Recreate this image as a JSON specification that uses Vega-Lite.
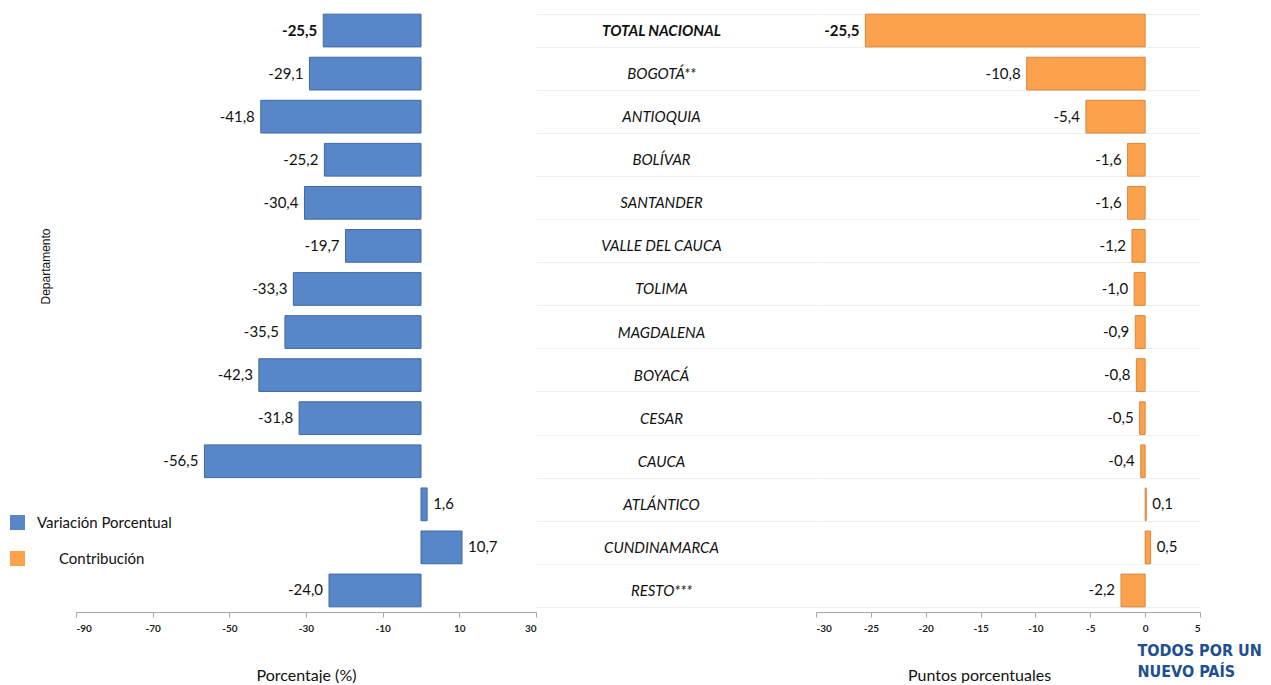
{
  "$schema": "https://vega.github.io/schema/vega-lite/v6.json",
  "padding": {"left": 10, "top": 2, "right": 0, "bottom": 0},
  "bounds": "flush",
  "spacing": 280,
  "resolve": {"scale": {"color": "independent"}, "legend": {"color": "independent"}},
  "config": {
    "view": {"stroke": null},
    "font": "Lato",
    "locale": {"number": {"decimal": ",", "thousands": ".", "grouping": [3], "currency": ["", ""], "minus": "-"}},
    "axis": {"labelFont": "Lato", "titleFont": "Lato", "labelColor": "#222222", "titleColor": "#111111", "domainColor": "#a6a6a6", "tickColor": "#a6a6a6"}
  },
  "datasets": {
    "deptos": [
      {"departamento": "TOTAL NACIONAL", "Variación Porcentual": -25.5, "Contribución": -25.5},
      {"departamento": "BOGOTÁ**", "Variación Porcentual": -29.1, "Contribución": -10.8},
      {"departamento": "ANTIOQUIA", "Variación Porcentual": -41.8, "Contribución": -5.4},
      {"departamento": "BOLÍVAR", "Variación Porcentual": -25.2, "Contribución": -1.6},
      {"departamento": "SANTANDER", "Variación Porcentual": -30.4, "Contribución": -1.6},
      {"departamento": "VALLE DEL CAUCA", "Variación Porcentual": -19.7, "Contribución": -1.2},
      {"departamento": "TOLIMA", "Variación Porcentual": -33.3, "Contribución": -1.0},
      {"departamento": "MAGDALENA", "Variación Porcentual": -35.5, "Contribución": -0.9},
      {"departamento": "BOYACÁ", "Variación Porcentual": -42.3, "Contribución": -0.8},
      {"departamento": "CESAR", "Variación Porcentual": -31.8, "Contribución": -0.5},
      {"departamento": "CAUCA", "Variación Porcentual": -56.5, "Contribución": -0.4},
      {"departamento": "ATLÁNTICO", "Variación Porcentual": 1.6, "Contribución": 0.1},
      {"departamento": "CUNDINAMARCA", "Variación Porcentual": 10.7, "Contribución": 0.5},
      {"departamento": "RESTO***", "Variación Porcentual": -24.0, "Contribución": -2.2}
    ]
  },
  "hconcat": [
    {
      "width": 460,
      "height": 603,
      "data": {"name": "deptos"},
      "transform": [{"fold": ["Variación Porcentual"], "as": ["serie", "valor"]}],
      "encoding": {
        "y": {
          "field": "departamento", "type": "nominal", "sort": null,
          "scale": {"paddingInner": 0.24, "paddingOuter": 0.12},
          "axis": {"labels": false, "ticks": false, "domain": false, "grid": false,
                   "title": "Departamento", "titleFont": "Liberation Sans", "titleFontSize": 12, "titleFontWeight": "normal",
                   "titleX": -31, "titleY": 257, "titleAngle": -90, "titleAlign": "center", "titleBaseline": "middle"}
        },
        "x": {
          "field": "valor", "type": "quantitative",
          "scale": {"domain": [-90, 30], "nice": false, "zero": false},
          "axis": {"values": [-90, -70, -50, -30, -10, 10, 30], "grid": false, "tickSize": 5,
                   "labelFontSize": 10, "labelFontWeight": "bold", "labelPadding": 6,
                   "title": "Porcentaje (%)", "titleFontSize": 16, "titleFontWeight": "normal", "titlePadding": 34}
        }
      },
      "layer": [
        {
          "mark": {"type": "bar", "stroke": "#41699f", "strokeWidth": 1},
          "encoding": {
            "color": {
              "field": "serie", "type": "nominal",
              "scale": {"domain": ["Variación Porcentual", "Contribución"], "range": ["#5787c9", "#fca24d"]},
              "legend": {"orient": "none", "legendX": -66, "legendY": 506, "title": null,
                         "symbolType": "square", "symbolSize": 225, "symbolStrokeWidth": 0,
                         "labelFont": "Lato", "labelFontSize": 15, "labelColor": "#111111", "labelOffset": 12,
                         "rowPadding": 20, "padding": 0,
                         "labelExpr": "indexof(datum.label, 'Contrib') >= 0 ? '\u2800\u2800' + datum.label : datum.label"}
            }
          }
        },
        {
          "mark": {"type": "text", "fontSize": 15, "color": "#111111", "baseline": "middle",
                   "align": {"expr": "datum.valor < 0 ? 'right' : 'left'"},
                   "dx": {"expr": "datum.valor < 0 ? -6 : 6"},
                   "fontWeight": {"expr": "datum.departamento == 'TOTAL NACIONAL' ? 'bold' : 'normal'"}},
          "encoding": {"text": {"field": "valor", "type": "quantitative", "format": ".1f"}}
        }
      ]
    },
    {
      "width": 384,
      "height": 603,
      "data": {"name": "deptos"},
      "transform": [{"fold": ["Contribución"], "as": ["serie", "valor"]}],
      "title": {"text": ["TODOS POR UN", "NUEVO PAÍS"], "orient": "bottom", "anchor": "end", "align": "left",
                "dx": -63, "offset": -40, "font": "DejaVu Sans Condensed", "fontSize": 16, "fontWeight": "bold",
                "color": "#1d4f91", "lineHeight": 21},
      "encoding": {
        "y": {
          "field": "departamento", "type": "nominal", "sort": null,
          "scale": {"paddingInner": 0.24, "paddingOuter": 0.12},
          "axis": {"title": null, "domain": false, "tickBand": "extent", "ticks": true, "tickSize": 280,
                   "tickColor": "#eeeeee", "grid": true, "gridColor": "#eeeeee",
                   "labelPadding": -125, "labelAlign": "center", "labelFontSize": 15, "labelFontStyle": "italic",
                   "labelColor": "#111111", "labelFont": "Lato",
                   "labelFontWeight": {"condition": {"test": "datum.value == 'TOTAL NACIONAL'", "value": "bold"}, "value": "normal"}}
        },
        "x": {
          "field": "valor", "type": "quantitative",
          "scale": {"domain": [-30, 5], "nice": false, "zero": false},
          "axis": {"values": [-30, -25, -20, -15, -10, -5, 0, 5], "grid": false, "tickSize": 5,
                   "labelFontSize": 10, "labelFontWeight": "bold", "labelPadding": 6,
                   "title": "Puntos porcentuales", "titleFontSize": 16, "titleFontWeight": "normal", "titlePadding": 34,
                   "titleX": 163, "titleAlign": "center"}
        }
      },
      "layer": [
        {
          "mark": {"type": "bar", "stroke": "#d9873f", "strokeWidth": 1},
          "encoding": {
            "color": {"field": "serie", "type": "nominal",
                      "scale": {"domain": ["Variación Porcentual", "Contribución"], "range": ["#5787c9", "#fca24d"]},
                      "legend": null}
          }
        },
        {
          "mark": {"type": "text", "fontSize": 15, "color": "#111111", "baseline": "middle",
                   "align": {"expr": "datum.valor < 0 ? 'right' : 'left'"},
                   "dx": {"expr": "datum.valor < 0 ? -6 : 6"},
                   "fontWeight": {"expr": "datum.departamento == 'TOTAL NACIONAL' ? 'bold' : 'normal'"}},
          "encoding": {"text": {"field": "valor", "type": "quantitative", "format": ".1f"}}
        }
      ]
    }
  ]
}
